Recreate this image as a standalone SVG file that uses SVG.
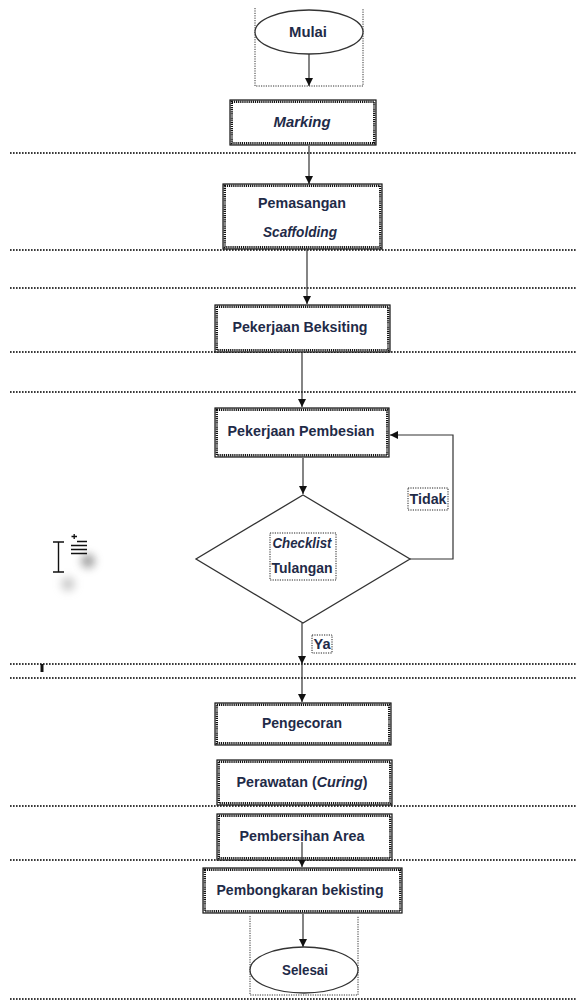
<svg xmlns="http://www.w3.org/2000/svg" width="577" height="1003" viewBox="0 0 577 1003">
<style>
.hl{stroke:#3a3a3a;stroke-width:1.8;stroke-dasharray:1.6 1.4;fill:none}
.fr{stroke:#333;stroke-width:1;stroke-dasharray:1.2 1.2;fill:none}
.bo{fill:#fff;stroke:#111;stroke-width:1.2}
.bi{fill:none;stroke:#111;stroke-width:2.4;stroke-dasharray:1.2 0.9}
.sh{fill:#fff;stroke:#333;stroke-width:1.3}
.c{stroke:#333;stroke-width:1.2;fill:none}
.lb{fill:#fff;stroke:#222;stroke-width:1;stroke-dasharray:1.2 1.2}
text{font-family:"Liberation Sans",Arial,sans-serif;font-weight:bold;font-size:14px;fill:#1f2b48;text-anchor:middle}
.i{font-style:italic}
</style>
<defs>
<marker id="ah" markerUnits="userSpaceOnUse" markerWidth="8" markerHeight="10" refX="8" refY="4" orient="auto">
<path d="M0 0 L8 4 L0 8 Z" fill="#111"/>
</marker>
<filter id="bl" x="-1" y="-1" width="3" height="3"><feGaussianBlur stdDeviation="4.5"/></filter>
</defs>
<rect width="577" height="1003" fill="#fff"/>
<g id="guides">
<line class="hl" x1="10" y1="153" x2="577" y2="153"/>
<line class="hl" x1="10" y1="250" x2="577" y2="250"/>
<line class="hl" x1="10" y1="288" x2="577" y2="288"/>
<line class="hl" x1="10" y1="352" x2="577" y2="352"/>
<line class="hl" x1="10" y1="392" x2="577" y2="392"/>
<line class="hl" x1="10" y1="664" x2="577" y2="664"/>
<line class="hl" x1="10" y1="678" x2="577" y2="678"/>
<line class="hl" x1="10" y1="806" x2="577" y2="806"/>
<line class="hl" x1="10" y1="860" x2="577" y2="860"/>
<line class="hl" x1="10" y1="999" x2="577" y2="999"/>
<rect x="40.5" y="664" width="3" height="8" fill="#111"/>
</g>
<g id="cursor">
<circle cx="88" cy="561" r="7" fill="#777" filter="url(#bl)" opacity="0.7"/>
<circle cx="68" cy="584" r="7" fill="#999" filter="url(#bl)" opacity="0.5"/>
<path d="M53 542 H64 M58.5 542 V572 M53 572 H64" stroke="#111" stroke-width="1.4" fill="none"/>
<path d="M77 541.5 H87 M71 545.5 H87 M71 549.5 H87 M71 553.5 H87 M71.5 536.5 H77 M74.2 534 V539" stroke="#111" stroke-width="1.3" fill="none"/>
</g>
<g id="connectors">
<line class="c" x1="309" y1="54" x2="309" y2="86" marker-end="url(#ah)"/>
<line class="c" x1="309" y1="146" x2="309" y2="184" marker-end="url(#ah)"/>
<line class="c" x1="307" y1="250" x2="307" y2="304" marker-end="url(#ah)"/>
<line class="c" x1="302" y1="353" x2="302" y2="407" marker-end="url(#ah)"/>
<line class="c" x1="303" y1="458" x2="303" y2="494" marker-end="url(#ah)"/>
<polyline class="c" points="410,559 453,559 453,435 390,435" marker-end="url(#ah)"/>
<line class="c" x1="302" y1="623" x2="302" y2="664" marker-end="url(#ah)"/>
<line class="c" x1="302" y1="664" x2="302" y2="702" marker-end="url(#ah)"/>
<line class="c" x1="302" y1="842" x2="302" y2="867" marker-end="url(#ah)"/>
<line class="c" x1="303" y1="914" x2="303" y2="947" marker-end="url(#ah)"/>
</g>
<g id="mulai">
<path class="fr" d="M255 8 V86 H363 V8"/>
<ellipse class="sh" cx="309" cy="32" rx="54" ry="22"/>
<text x="308" y="37" textLength="38" lengthAdjust="spacingAndGlyphs">Mulai</text>
</g>
<g id="marking">
<rect class="bo" x="230" y="100" width="146" height="45"/>
<rect class="bi" x="231.8" y="101.8" width="142.4" height="41.4"/>
<text class="i" x="302" y="127" textLength="57" lengthAdjust="spacingAndGlyphs">Marking</text>
</g>
<g id="pemasangan">
<rect class="bo" x="223" y="184" width="159" height="65"/>
<rect class="bi" x="224.8" y="185.8" width="155.4" height="61.4"/>
<text x="302" y="208" textLength="88" lengthAdjust="spacingAndGlyphs">Pemasangan</text>
<text class="i" x="300" y="237" textLength="74" lengthAdjust="spacingAndGlyphs">Scaffolding</text>
</g>
<g id="bekisting">
<rect class="bo" x="215" y="305" width="175" height="47"/>
<rect class="bi" x="216.8" y="306.8" width="171.4" height="43.4"/>
<text x="300" y="332" textLength="135" lengthAdjust="spacingAndGlyphs">Pekerjaan Beksiting</text>
</g>
<g id="pembesian">
<rect class="bo" x="215" y="408" width="174" height="49"/>
<rect class="bi" x="216.8" y="409.8" width="170.4" height="45.4"/>
<text x="301" y="436" textLength="147" lengthAdjust="spacingAndGlyphs">Pekerjaan Pembesian</text>
</g>
<g id="checklist">
<polygon class="sh" points="303,495 410,559 303,623 196,559"/>
<rect class="lb" x="270" y="533" width="66" height="47"/>
<text class="i" x="302" y="548" font-weight="normal" textLength="59" lengthAdjust="spacingAndGlyphs">Checklist</text>
<text x="302" y="573" textLength="61" lengthAdjust="spacingAndGlyphs">Tulangan</text>
</g>
<g id="tidak">
<rect class="lb" x="408" y="488" width="40" height="22"/>
<text x="428" y="504" textLength="37" lengthAdjust="spacingAndGlyphs">Tidak</text>
</g>
<g id="ya">
<rect class="lb" x="312" y="635" width="20" height="18"/>
<text x="322" y="649" textLength="17" lengthAdjust="spacingAndGlyphs">Ya</text>
</g>
<g id="pengecoran">
<rect class="bo" x="215" y="703" width="176" height="42"/>
<rect class="bi" x="216.8" y="704.8" width="172.4" height="38.4"/>
<text x="302" y="728" textLength="80" lengthAdjust="spacingAndGlyphs">Pengecoran</text>
</g>
<g id="perawatan">
<rect class="bo" x="217" y="760" width="175" height="45"/>
<rect class="bi" x="218.8" y="761.8" width="171.4" height="41.4"/>
<text x="302" y="787" textLength="131" lengthAdjust="spacingAndGlyphs">Perawatan (<tspan class="i">Curing</tspan>)</text>
</g>
<g id="pembersihan">
<rect class="bo" x="217" y="814" width="175" height="46"/>
<rect class="bi" x="218.8" y="815.8" width="171.4" height="42.4"/>
<text x="302" y="841" textLength="125" lengthAdjust="spacingAndGlyphs">Pembersihan Area</text>
<line class="c" x1="302" y1="842" x2="302" y2="860"/>
</g>
<g id="pembongkaran">
<rect class="bo" x="203" y="868" width="199" height="45"/>
<rect class="bi" x="204.8" y="869.8" width="195.4" height="41.4"/>
<text x="300" y="895" textLength="167" lengthAdjust="spacingAndGlyphs">Pembongkaran bekisting</text>
</g>
<g id="selesai">
<path class="fr" d="M250 916 V995 H358 V916"/>
<ellipse class="sh" cx="304" cy="970" rx="54" ry="23"/>
<text x="305" y="975" textLength="46" lengthAdjust="spacingAndGlyphs">Selesai</text>
</g>
</svg>
